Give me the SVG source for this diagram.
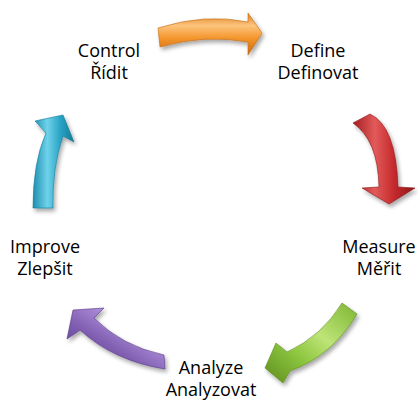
<svg xmlns="http://www.w3.org/2000/svg" width="418" height="401" viewBox="0 0 418 401">
<defs>
<style>
.lbl{font-family:"Open Sans","Liberation Sans",sans-serif;font-size:18px;fill:#000;text-anchor:middle}
.arrow{filter:url(#sh);stroke-width:0.6;stroke-linejoin:round}
</style>
<filter id="sh" x="-30%" y="-30%" width="160%" height="160%">
<feGaussianBlur in="SourceAlpha" stdDeviation="2.2"/>
<feOffset dx="1.5" dy="3" result="b"/>
<feComponentTransfer><feFuncA type="linear" slope="0.35"/></feComponentTransfer>
<feMerge><feMergeNode/><feMergeNode in="SourceGraphic"/></feMerge>
</filter>
<linearGradient id="gO" x1="0" y1="0" x2="0" y2="1">
<stop offset="0" stop-color="#E07F1C"/><stop offset="0.3" stop-color="#FCC47E"/><stop offset="0.6" stop-color="#F4962C"/><stop offset="1" stop-color="#C9690F"/>
</linearGradient>
<linearGradient id="gR" x1="0" y1="0" x2="1" y2="0">
<stop offset="0" stop-color="#A51D20"/><stop offset="0.35" stop-color="#E25A5A"/><stop offset="0.65" stop-color="#C62B2E"/><stop offset="1" stop-color="#8C1618"/>
</linearGradient>
<linearGradient id="gG" x1="1" y1="0" x2="0" y2="1">
<stop offset="0" stop-color="#7DB532"/><stop offset="0.4" stop-color="#BDE477"/><stop offset="0.65" stop-color="#8CC63F"/><stop offset="1" stop-color="#5E8C1E"/>
</linearGradient>
<linearGradient id="gP" x1="1" y1="0" x2="0" y2="1">
<stop offset="0" stop-color="#6B48A0"/><stop offset="0.35" stop-color="#A98AD6"/><stop offset="0.6" stop-color="#7F5DB0"/><stop offset="1" stop-color="#553684"/>
</linearGradient>
<linearGradient id="gC" x1="0" y1="0" x2="1" y2="0">
<stop offset="0" stop-color="#1D8FB0"/><stop offset="0.35" stop-color="#6FD2EA"/><stop offset="0.65" stop-color="#2BA6C6"/><stop offset="1" stop-color="#137896"/>
</linearGradient>
</defs>
<g id="connectors">
<path id="arrow-define" class="arrow" fill="url(#gO)" stroke="#C26810" d="M158,28 Q205,13 248,22 L248,13 L262,33 L248,55 L248,42 Q205,34 160,47 Z"/>
<path id="arrow-measure" class="arrow" fill="url(#gR)" stroke="#8C1618" d="M353,123 Q378,140 379,187 L362,188 L389,204 L415,188 L398,187 Q396,126 370,114 Z"/>
<path id="arrow-analyze" class="arrow" fill="url(#gG)" stroke="#5E8C1E" d="M342,303 Q322,336 287,352 L276,343 L265,368 L283,383 L290,371 Q332,356 357,314 Z"/>
<path id="arrow-improve" class="arrow" fill="url(#gP)" stroke="#553684" d="M164,355 Q122,346 94,318 L104,308 L73,310 L67,339 L80,330 Q114,361 165,369 Z"/>
<path id="arrow-control" class="arrow" fill="url(#gC)" stroke="#137896" d="M33,208 Q33,162 46,133 L35,121 L63,115 L74,142 L63,136 Q52,168 53,208 Z"/>
</g>
<g id="control"><text class="lbl" x="109" y="57">Control</text><text class="lbl" x="109" y="79">Řídit</text></g>
<g id="define"><text class="lbl" x="318" y="57">Define</text><text class="lbl" x="318" y="79">Definovat</text></g>
<g id="measure"><text class="lbl" x="379" y="253">Measure</text><text class="lbl" x="379" y="275">Měřit</text></g>
<g id="improve"><text class="lbl" x="45" y="253">Improve</text><text class="lbl" x="45" y="275">Zlepšit</text></g>
<g id="analyze"><text class="lbl" x="211" y="374">Analyze</text><text class="lbl" x="211" y="396">Analyzovat</text></g>
</svg>
